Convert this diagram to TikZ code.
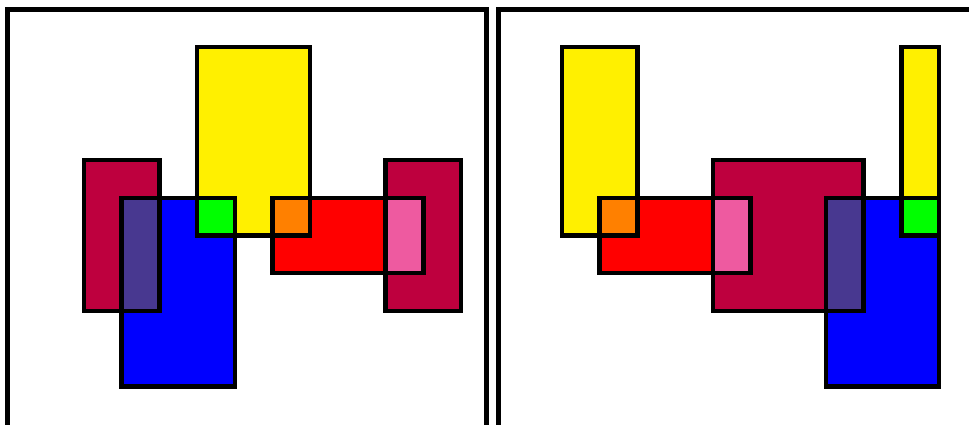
\documentclass[tikz,border=0pt]{standalone}
\definecolor{cyel}{RGB}{255,240,0}
\definecolor{ccrim}{RGB}{190,0,62}
\definecolor{cblue}{RGB}{0,0,255}
\definecolor{cred}{RGB}{255,0,0}
\definecolor{cgreen}{RGB}{0,255,0}
\definecolor{corange}{RGB}{255,128,0}
\definecolor{cpurple}{RGB}{72,56,144}
\definecolor{cpink}{RGB}{238,90,160}
\def\gu{37.7}
% #1 style, #2 x origin, #3 k1, #4 j1, #5 k2, #6 j2
\newcommand\gridbox[6]{\path[#1] ({#2+#3*\gu},{-47-#4*\gu}) rectangle ({#2+#5*\gu},{-47-#6*\gu});}
\tikzset{
  edge/.style={draw=black, line width=4.5pt},
  framebox/.style={draw=black, line width=4.7pt}
}
\begin{document}
\begin{tikzpicture}[x=1pt,y=1pt]
\useasboundingbox (0,0) rectangle (969,-424);
\clip (0,0) rectangle (969,-424);
\fill[white] (0,0) rectangle (969,-424);
% frames
\draw[framebox] (7.7,-9.7) rectangle (486.7,-440);
\draw[framebox] (498.8,-9.7) rectangle (990,-440);
% ---- left panel fills
\gridbox{fill=cyel}{84}{3}{0}{6}{5}
\gridbox{fill=ccrim}{84}{0}{3}{2}{7}
\gridbox{fill=cblue}{84}{1}{4}{4}{9}
\gridbox{fill=cred}{84}{5}{4}{9}{6}
\gridbox{fill=ccrim}{84}{8}{3}{10}{7}
\gridbox{fill=cgreen}{84}{3}{4}{4}{5}
\gridbox{fill=cpurple}{84}{1}{4}{2}{7}
\gridbox{fill=corange}{84}{5}{4}{6}{5}
\gridbox{fill=cpink}{84}{8}{4}{9}{6}
% left panel borders
\gridbox{edge}{84}{3}{0}{6}{5}
\gridbox{edge}{84}{0}{3}{2}{7}
\gridbox{edge}{84}{1}{4}{4}{9}
\gridbox{edge}{84}{5}{4}{9}{6}
\gridbox{edge}{84}{8}{3}{10}{7}
% ---- right panel fills
\gridbox{fill=cyel}{562}{0}{0}{2}{5}
\gridbox{fill=cred}{562}{1}{4}{5}{6}
\gridbox{fill=ccrim}{562}{4}{3}{8}{7}
\gridbox{fill=cblue}{562}{7}{4}{10}{9}
\gridbox{fill=cyel}{562}{9}{0}{10}{5}
\gridbox{fill=corange}{562}{1}{4}{2}{5}
\gridbox{fill=cpink}{562}{4}{4}{5}{6}
\gridbox{fill=cpurple}{562}{7}{4}{8}{7}
\gridbox{fill=cgreen}{562}{9}{4}{10}{5}
% right panel borders
\gridbox{edge}{562}{0}{0}{2}{5}
\gridbox{edge}{562}{1}{4}{5}{6}
\gridbox{edge}{562}{4}{3}{8}{7}
\gridbox{edge}{562}{7}{4}{10}{9}
\gridbox{edge}{562}{9}{0}{10}{5}
\end{tikzpicture}
\end{document}
